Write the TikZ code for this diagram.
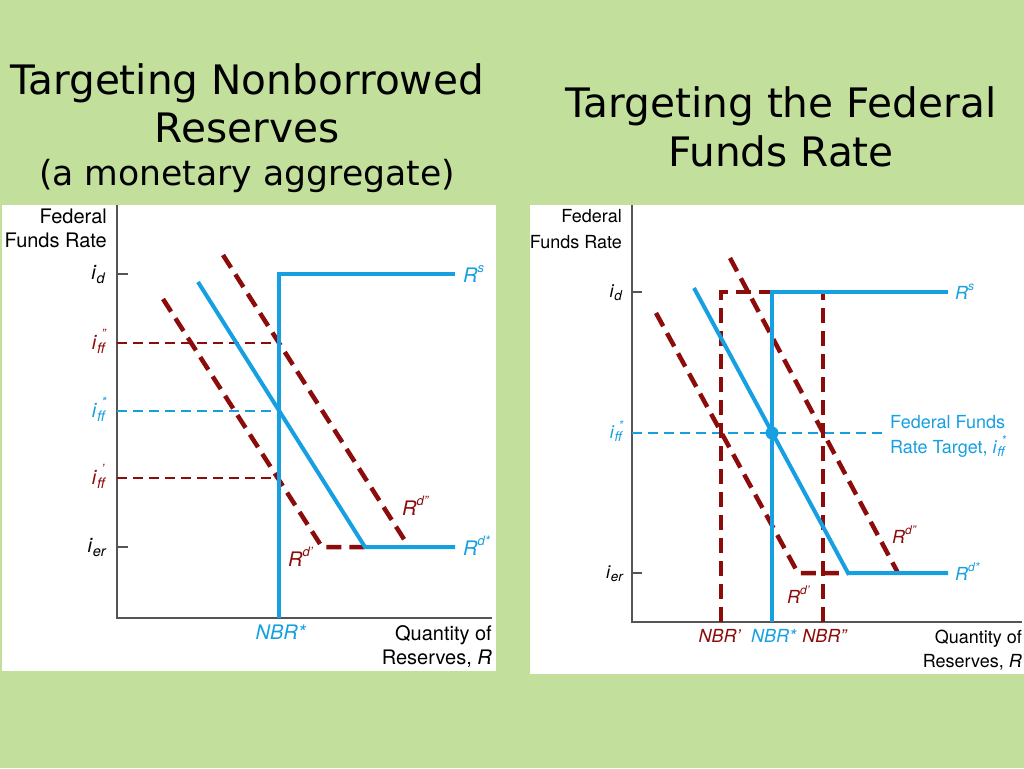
\documentclass[tikz,border=0pt]{standalone}
\usepackage{fontspec}
\setmainfont{TeX Gyre Heros}
\newfontfamily\titlefont{DejaVu Sans}
\definecolor{bgC}{RGB}{194,224,156}
\definecolor{blueC}{RGB}{22,160,225}
\definecolor{redC}{RGB}{140,12,12}
\definecolor{axC}{RGB}{85,85,85}
\def\subfs{15}\def\supfs{12}\def\supraise{0.42em}
% i with superscript #2 and subscript #3
\newcommand\ssub[3]{\textit{#1}\rlap{\raisebox{\supraise}{\fontsize{\supfs}{\supfs}\selectfont\itshape #2}}\raisebox{-0.2em}{\fontsize{\subfs}{\subfs}\selectfont\itshape #3}}
\newcommand\rsup[1]{\textit{R}\raisebox{0.47em}{\fontsize{\supfs}{\supfs}\selectfont\itshape #1}}
\tikzset{
  axisline/.style={draw=axC,line width=1.5pt},
  bluethick/.style={draw=blueC,line width=4pt},
  redthick/.style={draw=redC,line width=4.5pt,dash pattern=on 15pt off 8pt},
  redthin/.style={draw=redC,line width=1.3pt,dash pattern=on 10pt off 6pt},
  bluethin/.style={draw=blueC,line width=1.3pt,dash pattern=on 10pt off 6pt},
  titletxt/.style={font=\titlefont\fontsize{40.6}{48}\selectfont,inner sep=0,anchor=base},
  lblL/.style={font={\def\subfs{14.5}\def\supfs{13}\def\supraise{0.52em}\fontsize{20}{24}\selectfont},inner sep=0},
  lblR/.style={font={\def\subfs{13.5}\def\supfs{12}\def\supraise{0.46em}\fontsize{18}{24}\selectfont},inner sep=0},
}
\begin{document}
\begin{tikzpicture}[x=1pt,y=-1pt]
\useasboundingbox (0,0) rectangle (1024,768);
\fill[bgC] (0,0) rectangle (1024,768);
% titles
\node[titletxt] (t1) at (247,94) {Targeting Nonborrowed};
\node[titletxt] (t2) at (247,142) {Reserves};
\node[titletxt,font=\titlefont\fontsize{34.6}{40}\selectfont] (t3) at (247,185) {(a monetary aggregate)};
\node[titletxt] (t4) at (781,117) {Targeting the Federal};
\node[titletxt] (t5) at (781,166) {Funds Rate};
% panels
\fill[white] (2,205) rectangle (496,671);
\fill[white] (530,205) rectangle (1024,674);

%%%%% LEFT PANEL
\coordinate (LO) at (117,618);
\coordinate (LT) at (117,205);
\coordinate (LX) at (492,618);
\draw[axisline] (LT) -- (LO) -- (LX);
\coordinate (Lid0) at (117,274); \coordinate (Lid1) at (128,274);
\coordinate (Lie0) at (117,547); \coordinate (Lie1) at (128,547);
\draw[axisline] (Lid0) -- (Lid1);
\draw[axisline] (Lie0) -- (Lie1);
% thin dashed
\coordinate (Lpp0) at (117,343); \coordinate (Lpp1) at (279,343);
\coordinate (Lps0) at (117,411); \coordinate (Lps1) at (279,411);
\coordinate (Lp0) at (117,478); \coordinate (Lp1) at (279,478);
\draw[redthin] (Lpp0) -- (Lpp1);
\draw[bluethin] (Lps0) -- (Lps1);
\draw[redthin] (Lp0) -- (Lp1);
% red demand curves
\coordinate (Lr2a) at (223,255); \coordinate (Lr2b) at (409,547);
\draw[redthick] (Lr2a) -- (Lr2b);
\coordinate (Lr1a) at (163,299); \coordinate (Lr1b) at (322,547); \coordinate (Lr1c) at (365,547);
\draw[redthick] (Lr1a) -- (Lr1b) -- (Lr1c);
% blue
\coordinate (Lba) at (198,282); \coordinate (Lbb) at (365,547); \coordinate (Lbc) at (455,547);
\draw[bluethick] (Lba) -- (Lbb) -- (Lbc);
\coordinate (Lsa) at (279,618); \coordinate (Lsb) at (279,274); \coordinate (Lsc) at (455,274);
\draw[bluethick] (Lsa) -- (Lsb) -- (Lsc);
% labels
\node[lblL,anchor=base east] (LyA) at (107,223) {Federal};
\node[lblL,anchor=base east] (LyB) at (107,247) {Funds Rate};
\node[lblL,anchor=base east] (Lid) at (105,279) {\ssub{i}{}{d}};
\node[lblL,anchor=base east,text=redC] (Lipp) at (105,349) {\ssub{i}{\,\,''}{ff}};
\node[lblL,anchor=base east,text=blueC] (Lips) at (105,417) {\ssub{i}{\,\,*}{ff}};
\node[lblL,anchor=base east,text=redC] (Lip) at (105,484) {\ssub{i}{\,\,'}{ff}};
\node[lblL,anchor=base east] (Lie) at (106,552) {\ssub{i}{}{er}};
\node[lblL,anchor=base west,text=blueC] (LRs) at (463,282) {\rsup{s}};
\node[lblL,anchor=base west,text=blueC] (LRds) at (463,555) {\rsup{d*}};
\node[lblL,anchor=base west,text=redC] (LRdpp) at (402,515) {\rsup{d''}};
\node[lblL,anchor=base west,text=redC] (LRdp) at (288,566) {\rsup{d'}};
\node[lblL,anchor=base,text=blueC] (LNBR) at (281,639) {\textit{NBR*}};
\node[lblL,anchor=base east] (LxA) at (492,640) {Quantity of};
\node[lblL,anchor=base east] (LxB) at (492,664) {Reserves, \textit{R}};

%%%%% RIGHT PANEL
\coordinate (RO) at (632,622);
\coordinate (RT) at (632,205);
\coordinate (RX) at (1022,622);
\draw[axisline] (RT) -- (RO) -- (RX);
\coordinate (Rid0) at (632,292); \coordinate (Rid1) at (642,292);
\coordinate (Rie0) at (632,573); \coordinate (Rie1) at (642,573);
\draw[axisline] (Rid0) -- (Rid1);
\draw[axisline] (Rie0) -- (Rie1);
\coordinate (Rps0) at (632,433); \coordinate (Rps1) at (887,433);
\draw[bluethin] (Rps0) -- (Rps1);
% red verticals
\coordinate (Rn1a) at (721,622); \coordinate (Rn1b) at (721,292); \coordinate (Rn1c) at (772,292);
\draw[redthick] (Rn1a) -- (Rn1b) -- (Rn1c);
\coordinate (Rn2a) at (823,622); \coordinate (Rn2b) at (823,292);
\draw[redthick] (Rn2a) -- (Rn2b);
% red demand curves
\coordinate (Rr2a) at (730,258); \coordinate (Rr2b) at (898,573);
\draw[redthick] (Rr2a) -- (Rr2b);
\coordinate (Rr1a) at (656,313); \coordinate (Rr1b) at (798,573); \coordinate (Rr1c) at (848,573);
\draw[redthick] (Rr1a) -- (Rr1b) -- (Rr1c);
% blue
\coordinate (Rba) at (694,288); \coordinate (Rbb) at (848,573); \coordinate (Rbc) at (948,573);
\draw[bluethick] (Rba) -- (Rbb) -- (Rbc);
\coordinate (Rsa) at (772,622); \coordinate (Rsb) at (772,292); \coordinate (Rsc) at (948,292);
\draw[bluethick] (Rsa) -- (Rsb) -- (Rsc);
\fill[blueC] (772,433) circle (6.5pt);
% labels
\node[lblR,anchor=base east] (RyA) at (622,222) {Federal};
\node[lblR,anchor=base east] (RyB) at (622,248) {Funds Rate};
\node[lblR,anchor=base east] (Rid) at (622,297) {\ssub{i}{}{d}};
\node[lblR,anchor=base east,text=blueC] (Rips) at (622,438) {\ssub{i}{\,\,*}{ff}};
\node[lblR,anchor=base east] (Rie) at (623,578) {\ssub{i}{}{er}};
\node[lblR,anchor=base west,text=blueC] (RRs) at (955,299) {\rsup{s}};
\node[lblR,anchor=base west,text=blueC] (RRds) at (955,580) {\rsup{d*}};
\node[lblR,anchor=base west,text=redC] (RRdpp) at (892,543) {\rsup{d''}};
\node[lblR,anchor=base west,text=redC] (RRdp) at (787,603) {\rsup{d'}};
\node[lblR,anchor=base,text=redC] (RN1) at (720,642) {\textit{NBR'}};
\node[lblR,anchor=base,text=blueC] (RN2) at (774,642) {\textit{NBR*}};
\node[lblR,anchor=base,text=redC] (RN3) at (825,642) {\textit{NBR''}};
\node[lblR,anchor=base east] (RxA) at (1022,643) {Quantity of};
\node[lblR,anchor=base east] (RxB) at (1022,667) {Reserves, \textit{R}};
\node[lblR,anchor=base west,text=blueC] (RtA) at (890,428) {Federal Funds};
\node[lblR,anchor=base west,text=blueC] (RtB) at (890,453) {Rate Target, \ssub{i}{\,\,*}{ff}};
\end{tikzpicture}
\end{document}
